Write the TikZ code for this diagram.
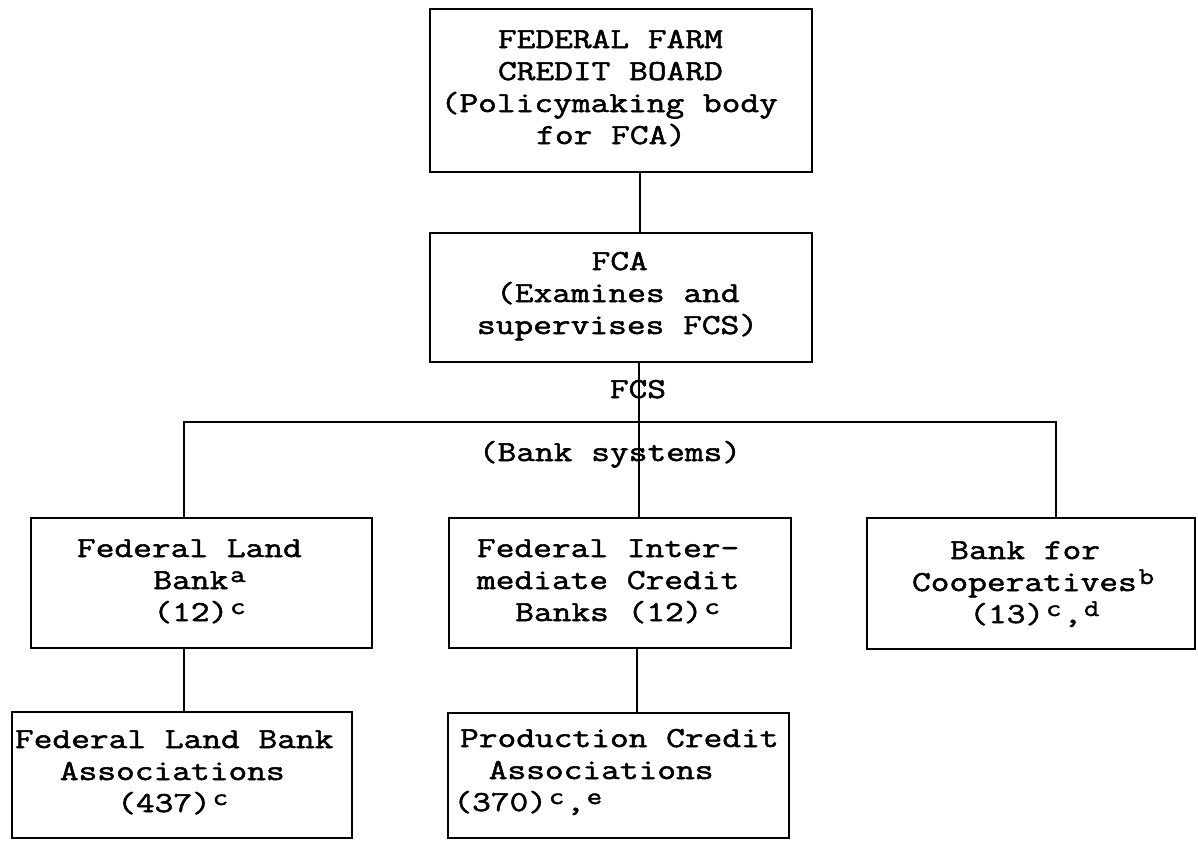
\documentclass[tikz,border=0pt]{standalone}
\usepackage{fontspec}
\newfontfamily\tw{Latin Modern Mono}[FakeStretch=1.2545, FakeBold=1.8]
\newlength\cwd \setlength\cwd{19.1pt}
\newcommand\ind[1]{\hspace*{#1\cwd}}
\newcommand\supx[1]{\makebox[\cwd][c]{\smash{\raisebox{7pt}{\fontsize{24}{24}\selectfont #1}}}}
\tikzset{
  box/.style={draw, line width=2.4pt, inner sep=0pt, outer sep=0pt},
  conn/.style={draw, line width=2.4pt},
  txt/.style={font={\tw\fontsize{29}{32}\selectfont\lineskiplimit=-50pt\frenchspacing},
    inner sep=0pt, outer sep=0pt, align=left, anchor=north west},
  lbl/.style={font={\tw\fontsize{29}{32}\selectfont\frenchspacing},
    inner sep=0pt, outer sep=0pt, anchor=base}
}
\begin{document}
\begin{tikzpicture}[x=1pt,y=-1pt]
\fill[white] (0,0) rectangle (1198,841);
\useasboundingbox (0,0) rectangle (1198,841);

% boxes
\node[box, minimum width=382pt, minimum height=163pt] (fcb) at (621,90.5) {};
\node[box, minimum width=382pt, minimum height=129pt] (fca) at (621,297.5) {};
\node[box, minimum width=341pt, minimum height=130pt] (flb) at (201.5,583) {};
\node[box, minimum width=342pt, minimum height=130pt] (fic) at (620,583) {};
\node[box, minimum width=328pt, minimum height=131pt] (bfc) at (1031,583.5) {};
\node[box, minimum width=340pt, minimum height=126pt] (flba) at (182,775) {};
\node[box, minimum width=341pt, minimum height=125pt] (pca) at (618.5,775.5) {};

% texts
\node[txt] (fcbt) at (440.7,25.6) {\strut\ind{3}FEDERAL FARM\\\ind{3}CREDIT BOARD\\(Policymaking body\\\ind{5}for FCA)};
\node[txt] (fcat) at (477,247.6) {\strut\ind{6}FCA\\\ind{1}(Examines and\\supervises FCS)};
\node[txt] (flbt) at (77,534.6) {\strut Federal Land\\\ind{4}Bank\supx{a}\\\ind{4}(12)\supx{c}};
\node[txt] (fict) at (477,534.6) {\strut Federal Inter-\\mediate Credit\\\ind{2}Banks (12)\supx{c}};
\node[txt] (bfct) at (912,536.6) {\strut\ind{2}Bank for\\Cooperatives\supx{b}\\\ind{3}(13)\supx{c},\supx{d}};
\node[txt] (flbat) at (15,725.6) {\strut Federal Land Bank\\\ind{2.35}Associations\\\ind{5.35}(437)\supx{c}};
\node[txt] (pcat) at (453.4,724.6) {\strut\ind{0.35}Production Credit\\\ind{1.85}Associations\\(370)\supx{c},\supx{e}};
\node[lbl] (fcs) at (638,398) {FCS};
\node[lbl] (banksys) at (610,461) {(Bank systems)};

% connectors
\coordinate (trunk) at (640,0);
\coordinate (trunkb) at (639,0);
\coordinate (mid) at (637,0);
\coordinate (hl) at (184,422);
\coordinate (hr) at (1056,422);
\draw[conn] (trunk |- fcb.south) -- (trunk |- fca.north);
\draw[conn] (trunkb |- fca.south) -- (trunkb |- fic.north);
\draw[conn] (hl |- flb.north) -- (hl) -- (hr) -- (hr |- bfc.north);
\draw[conn] (hl |- flb.south) -- (hl |- flba.north);
\draw[conn] (mid |- fic.south) -- (mid |- pca.north);
\end{tikzpicture}
\end{document}
